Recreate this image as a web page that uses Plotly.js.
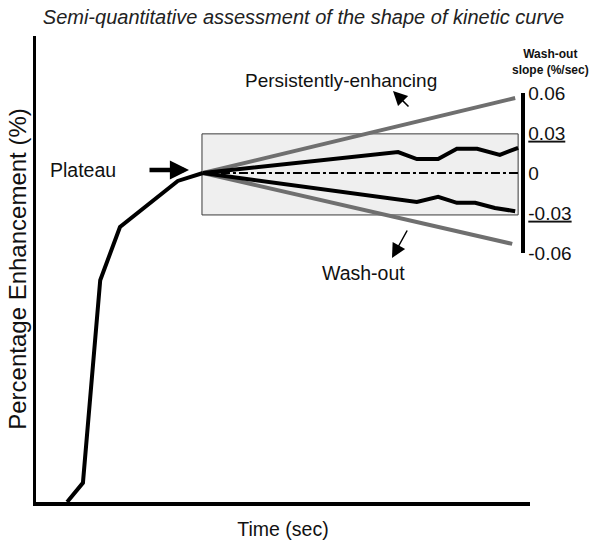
<!DOCTYPE html>
<html>
<head>
<meta charset="utf-8">
<script src="https://cdn.plot.ly/plotly-3.0.1.min.js"></script>
<style>html,body{margin:0;padding:0;background:#fff;}#chart{width:601px;height:544px;}</style>
</head>
<body>
<div id="chart"></div>
<script>
// ---- data (time in arbitrary units 0-100, enhancement in % of axis height) ----
const uptakeTime = [6.3, 9.5, 13.0, 17.0, 28.7, 33.8];
const uptakeEnh  = [0, 4.1, 47.6, 59.0, 68.9, 70.6];

const persistRefTime = [33.8, 97.0];
const persistRefEnh  = [70.6, 86.7];
const washRefTime    = [33.8, 96.4];
const washRefEnh     = [70.6, 55.4];

const upperTime = [33.8, 73.3, 77.1, 81.4, 85.2, 89.3, 93.9, 97.6];
const upperEnh  = [70.6, 75.1, 73.6, 73.6, 75.8, 75.8, 74.5, 76.0];
const lowerTime = [33.8, 77.1, 81.4, 85.2, 88.9, 92.9, 97.0];
const lowerEnh  = [70.6, 64.4, 65.5, 64.2, 64.2, 63.1, 62.4];
const plateauTime = [33.8, 97.6];
const plateauEnh  = [70.6, 70.6];

const boxTime = [33.6, 97.6];
const boxEnh  = [61.6, 79.0];

const slopeTicks  = [-0.06, -0.03, 0, 0.03, 0.06];
const slopeLabels = ['-0.06', '<u>-0.03</u>', '0', '<u>0.03</u>', '0.06'];

// ---- helpers: pixel -> paper (plot area 36..530 x, 36..502 y) ----
const L = 36, R = 530, T = 36, B = 502;
const px = x => (x - L) / (R - L);
const py = y => (B - y) / (B - T);

const FONT = 'Liberation Sans, Arial, Helvetica, sans-serif';
const TXT = '#111';

const traces = [
  {x: persistRefTime, y: persistRefEnh, mode: 'lines', line: {color: '#6f6f6f', width: 4}, hoverinfo: 'skip'},
  {x: washRefTime, y: washRefEnh, mode: 'lines', line: {color: '#6f6f6f', width: 4}, hoverinfo: 'skip'},
  {x: plateauTime, y: plateauEnh, mode: 'lines', line: {color: '#000', width: 2, dash: 'dashdot'}, hoverinfo: 'skip'},
  {x: upperTime, y: upperEnh, mode: 'lines', line: {color: '#000', width: 4}, hoverinfo: 'skip'},
  {x: lowerTime, y: lowerEnh, mode: 'lines', line: {color: '#000', width: 4}, hoverinfo: 'skip'},
  {x: uptakeTime, y: uptakeEnh, mode: 'lines', line: {color: '#000', width: 4}, hoverinfo: 'skip'},
  {x: [], y: [], yaxis: 'y2', mode: 'lines', hoverinfo: 'skip'}
];

const layout = {
  width: 601, height: 544,
  margin: {l: L, r: 601 - R, t: T, b: 544 - B, pad: 0},
  paper_bgcolor: '#fff', plot_bgcolor: 'rgba(0,0,0,0)',
  showlegend: false,
  font: {family: FONT, color: TXT},
  title: {text: '<i>Semi-quantitative assessment of the shape of kinetic curve</i>',
          font: {size: 20, family: FONT, color: '#222'},
          x: 0.505, xanchor: 'center', y: 1 - 17 / 544, yanchor: 'middle'},
  xaxis: {range: [0, 100], showline: true, linecolor: '#000', linewidth: 3.5,
          showgrid: false, zeroline: false, showticklabels: false, ticks: '',
          title: {text: 'Time (sec)', font: {size: 19.5, family: FONT, color: TXT}, standoff: 19}},
  yaxis: {range: [0, 100], showline: true, linecolor: '#000', linewidth: 3.5,
          showgrid: false, zeroline: false, showticklabels: false, ticks: '',
          title: {text: 'Percentage Enhancement (%)', font: {size: 24, family: FONT, color: TXT}, standoff: 0}},
  yaxis2: {range: [-0.06, 0.06], domain: [py(253), py(93)], anchor: 'free', position: px(522),
           side: 'right', showline: true, linecolor: '#000', linewidth: 3.5,
           showgrid: false, zeroline: false, ticks: '',
           tickvals: slopeTicks, ticktext: slopeLabels,
           tickfont: {size: 19, family: FONT, color: TXT}},
  shapes: [
    {type: 'rect', xref: 'x', yref: 'y', x0: boxTime[0], x1: boxTime[1], y0: boxEnh[0], y1: boxEnh[1],
     fillcolor: '#efefef', line: {color: '#3a3a3a', width: 1}, layer: 'below'}
  ],
  annotations: [
    {xref: 'paper', yref: 'paper', x: px(550), y: py(62), text: '<b>Wash-out<br>slope (%/sec)</b>',
     showarrow: false, font: {size: 12, family: FONT, color: TXT}, xanchor: 'center', yanchor: 'middle'},
    {xref: 'paper', yref: 'paper', x: px(48), y: py(170), text: 'Plateau', showarrow: false,
     font: {size: 19.5, family: FONT, color: TXT}, xanchor: 'left', yanchor: 'middle'},
    {xref: 'paper', yref: 'paper', x: px(243), y: py(81), text: 'Persistently-enhancing', showarrow: false,
     font: {size: 19, family: FONT, color: TXT}, xanchor: 'left', yanchor: 'middle'},
    {xref: 'paper', yref: 'paper', x: px(320), y: py(273), text: 'Wash-out', showarrow: false,
     font: {size: 19.5, family: FONT, color: TXT}, xanchor: 'left', yanchor: 'middle'},
    {xref: 'paper', yref: 'paper', x: px(189), y: py(170), text: '', showarrow: true,
     ax: -41, ay: 0, arrowhead: 2, arrowsize: 0.85, arrowwidth: 4.5, arrowcolor: '#000', standoff: 0},
    {xref: 'paper', yref: 'paper', x: px(393), y: py(91), text: '', showarrow: true,
     ax: 17, ay: 17, arrowhead: 2, arrowsize: 1.9, arrowwidth: 1.5, arrowcolor: '#000', standoff: 0},
    {xref: 'paper', yref: 'paper', x: px(392), y: py(258), text: '', showarrow: true,
     ax: 16, ay: -29, arrowhead: 2, arrowsize: 1.9, arrowwidth: 1.5, arrowcolor: '#000', standoff: 0}
  ]
};

Plotly.newPlot('chart', traces, layout, {staticPlot: true, displayModeBar: false});
</script>
</body>
</html>
